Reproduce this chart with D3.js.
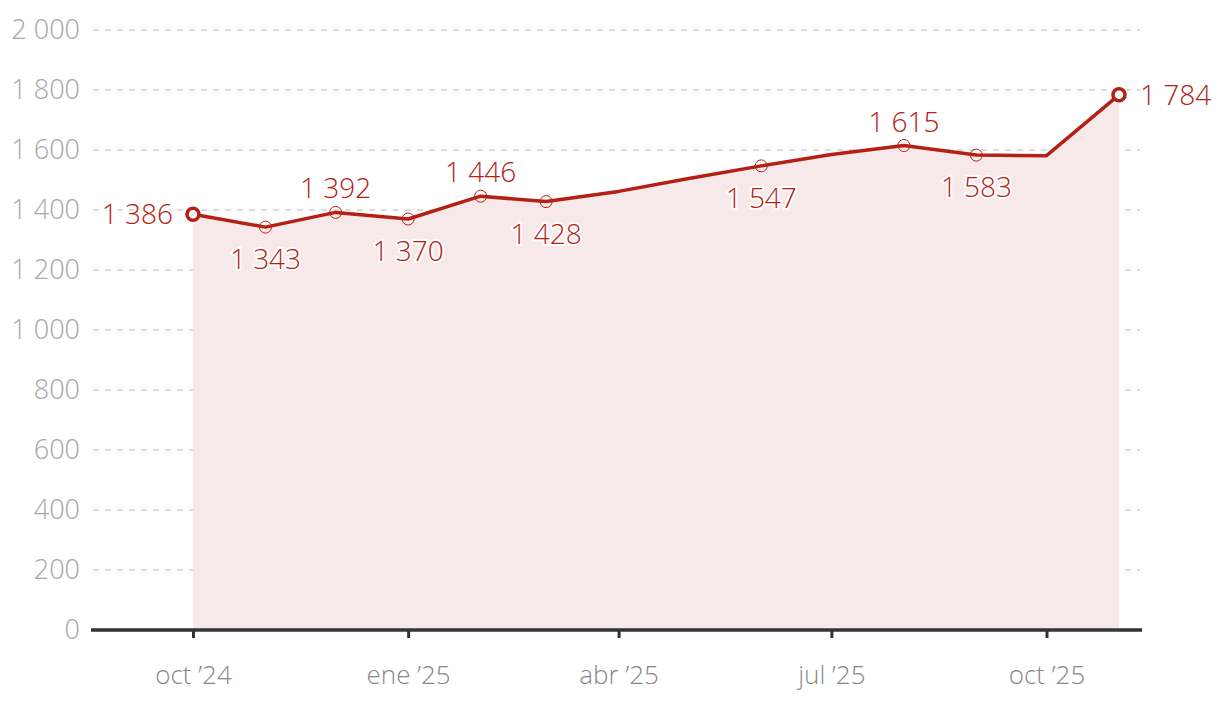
<!DOCTYPE html>
<html>
<head>
<meta charset="utf-8">
<script src="https://cdn.jsdelivr.net/npm/d3@7"></script>
<style>
  body { margin: 0; background: #fff; }
  svg { font-family: "Open Sans Light", "Open Sans", sans-serif; font-weight: 300; }
</style>
</head>
<body>
<script>
// monthly values, oct '24 .. nov '25
var months = ["2024-10", "2024-11", "2024-12", "2025-01", "2025-02", "2025-03", "2025-04",
              "2025-05", "2025-06", "2025-07", "2025-08", "2025-09", "2025-10", "2025-11"];
var values = [1386, 1343, 1392, 1370, 1446, 1428, 1462, 1505, 1547, 1585, 1615, 1583, 1581, 1784];
// where the value label goes: "left", "below", "above", "right", or "" for none
var labelPos = ["left", "below", "above", "below", "above", "below", "", "", "below", "", "above", "below", "", "right"];
var yTicks = [0, 200, 400, 600, 800, 1000, 1200, 1400, 1600, 1800, 2000];
var monthNames = ["ene", "feb", "mar", "abr", "may", "jun", "jul", "ago", "sep", "oct", "nov", "dic"];

var svgWidth = 1220, svgHeight = 706;
var red = "#b52015";

var parse = d3.timeParse("%Y-%m");
var data = months.map(function(m, i) {
  return { date: parse(m), value: values[i], pos: labelPos[i] };
});

var locale = d3.formatLocale({ decimal: ",", thousands: "\u2009", grouping: [3], currency: ["", "€"] });
var fmt = function(v) { return locale.format(",")(v).replace(/\u2009/g, " "); };

var svg = d3.select("body").append("svg")
  .attr("width", svgWidth)
  .attr("height", svgHeight);

var x = d3.scaleTime()
  .domain([data[0].date, data[data.length - 1].date])
  .range([193, 1119]);

var y = d3.scaleLinear()
  .domain([0, 2000])
  .range([630, 30]);

// grid lines + y labels
var grid = svg.append("g");
grid.selectAll("line")
  .data(yTicks.filter(function(d) { return d > 0; }))
  .enter().append("line")
  .attr("x1", 93).attr("x2", 1140)
  .attr("y1", d => y(d)).attr("y2", d => y(d))
  .attr("stroke", "#cfcfcf")
  .attr("stroke-width", 1.3)
  .attr("stroke-dasharray", "6,6");

grid.selectAll("text")
  .data(yTicks)
  .enter().append("text")
  .attr("x", 80)
  .attr("y", d => y(d))
  .attr("dy", "0.35em")
  .attr("text-anchor", "end")
  .attr("fill", "#a8a8a8")
  .style("font-size", "27px")
  .text(d => fmt(d));

// area
var area = d3.area()
  .x(d => x(d.date))
  .y0(y(0))
  .y1(d => y(d.value));

svg.append("path")
  .datum(data)
  .attr("d", area)
  .attr("fill", "#f7e9e9");

// x axis
var xAxis = d3.axisBottom(x)
  .tickValues(data.filter(function(d) { return d.date.getMonth() % 3 == 0; }).map(d => d.date))
  .tickSize(8)
  .tickPadding(28)
  .tickFormat(function(d) {
    return monthNames[d.getMonth()] + " \u2019" + String(d.getFullYear()).slice(2);
  });

var gx = svg.append("g")
  .attr("transform", "translate(0," + y(0) + ")")
  .call(xAxis);
gx.select(".domain").remove();
gx.selectAll(".tick line").attr("stroke", "#333").attr("stroke-width", 3);
gx.selectAll(".tick text")
  .attr("fill", "#888")
  .style("font-size", "26px")
  .style("font-family", "'Open Sans Light', 'Open Sans', sans-serif")
  .style("font-weight", 300);

svg.append("line")
  .attr("x1", 91).attr("x2", 1142)
  .attr("y1", y(0)).attr("y2", y(0))
  .attr("stroke", "#333")
  .attr("stroke-width", 3.5);

// line
var line = d3.line()
  .x(d => x(d.date))
  .y(d => y(d.value));

svg.append("path")
  .datum(data)
  .attr("d", line)
  .attr("fill", "none")
  .attr("stroke", red)
  .attr("stroke-width", 3.5)
  .attr("stroke-linejoin", "round");

// markers on labelled points
var marked = data.filter(d => d.pos != "");
svg.selectAll("circle.pt")
  .data(marked)
  .enter().append("circle")
  .attr("class", "pt")
  .attr("cx", d => x(d.date))
  .attr("cy", d => y(d.value))
  .attr("r", 6)
  .attr("fill", function(d) { return (d.pos == "left" || d.pos == "right") ? "#fff" : "none"; })
  .attr("stroke", red)
  .attr("stroke-width", function(d) { return (d.pos == "left" || d.pos == "right") ? 3.5 : 1; });

// value labels
svg.selectAll("text.val")
  .data(marked)
  .enter().append("text")
  .attr("class", "val")
  .attr("x", function(d) {
    if (d.pos == "left") return x(d.date) - 20;
    if (d.pos == "right") return x(d.date) + 21;
    return x(d.date);
  })
  .attr("y", function(d) {
    if (d.pos == "above") return y(d.value) - 14;
    if (d.pos == "below") return y(d.value) + 42;
    return y(d.value) + 10;
  })
  .attr("text-anchor", function(d) {
    if (d.pos == "left") return "end";
    if (d.pos == "right") return "start";
    return "middle";
  })
  .attr("fill", red)
  .attr("stroke", "#fff")
  .attr("stroke-width", 4)
  .attr("paint-order", "stroke")
  .style("font-size", "28px")
  .text(d => fmt(d.value));
</script>
</body>
</html>
